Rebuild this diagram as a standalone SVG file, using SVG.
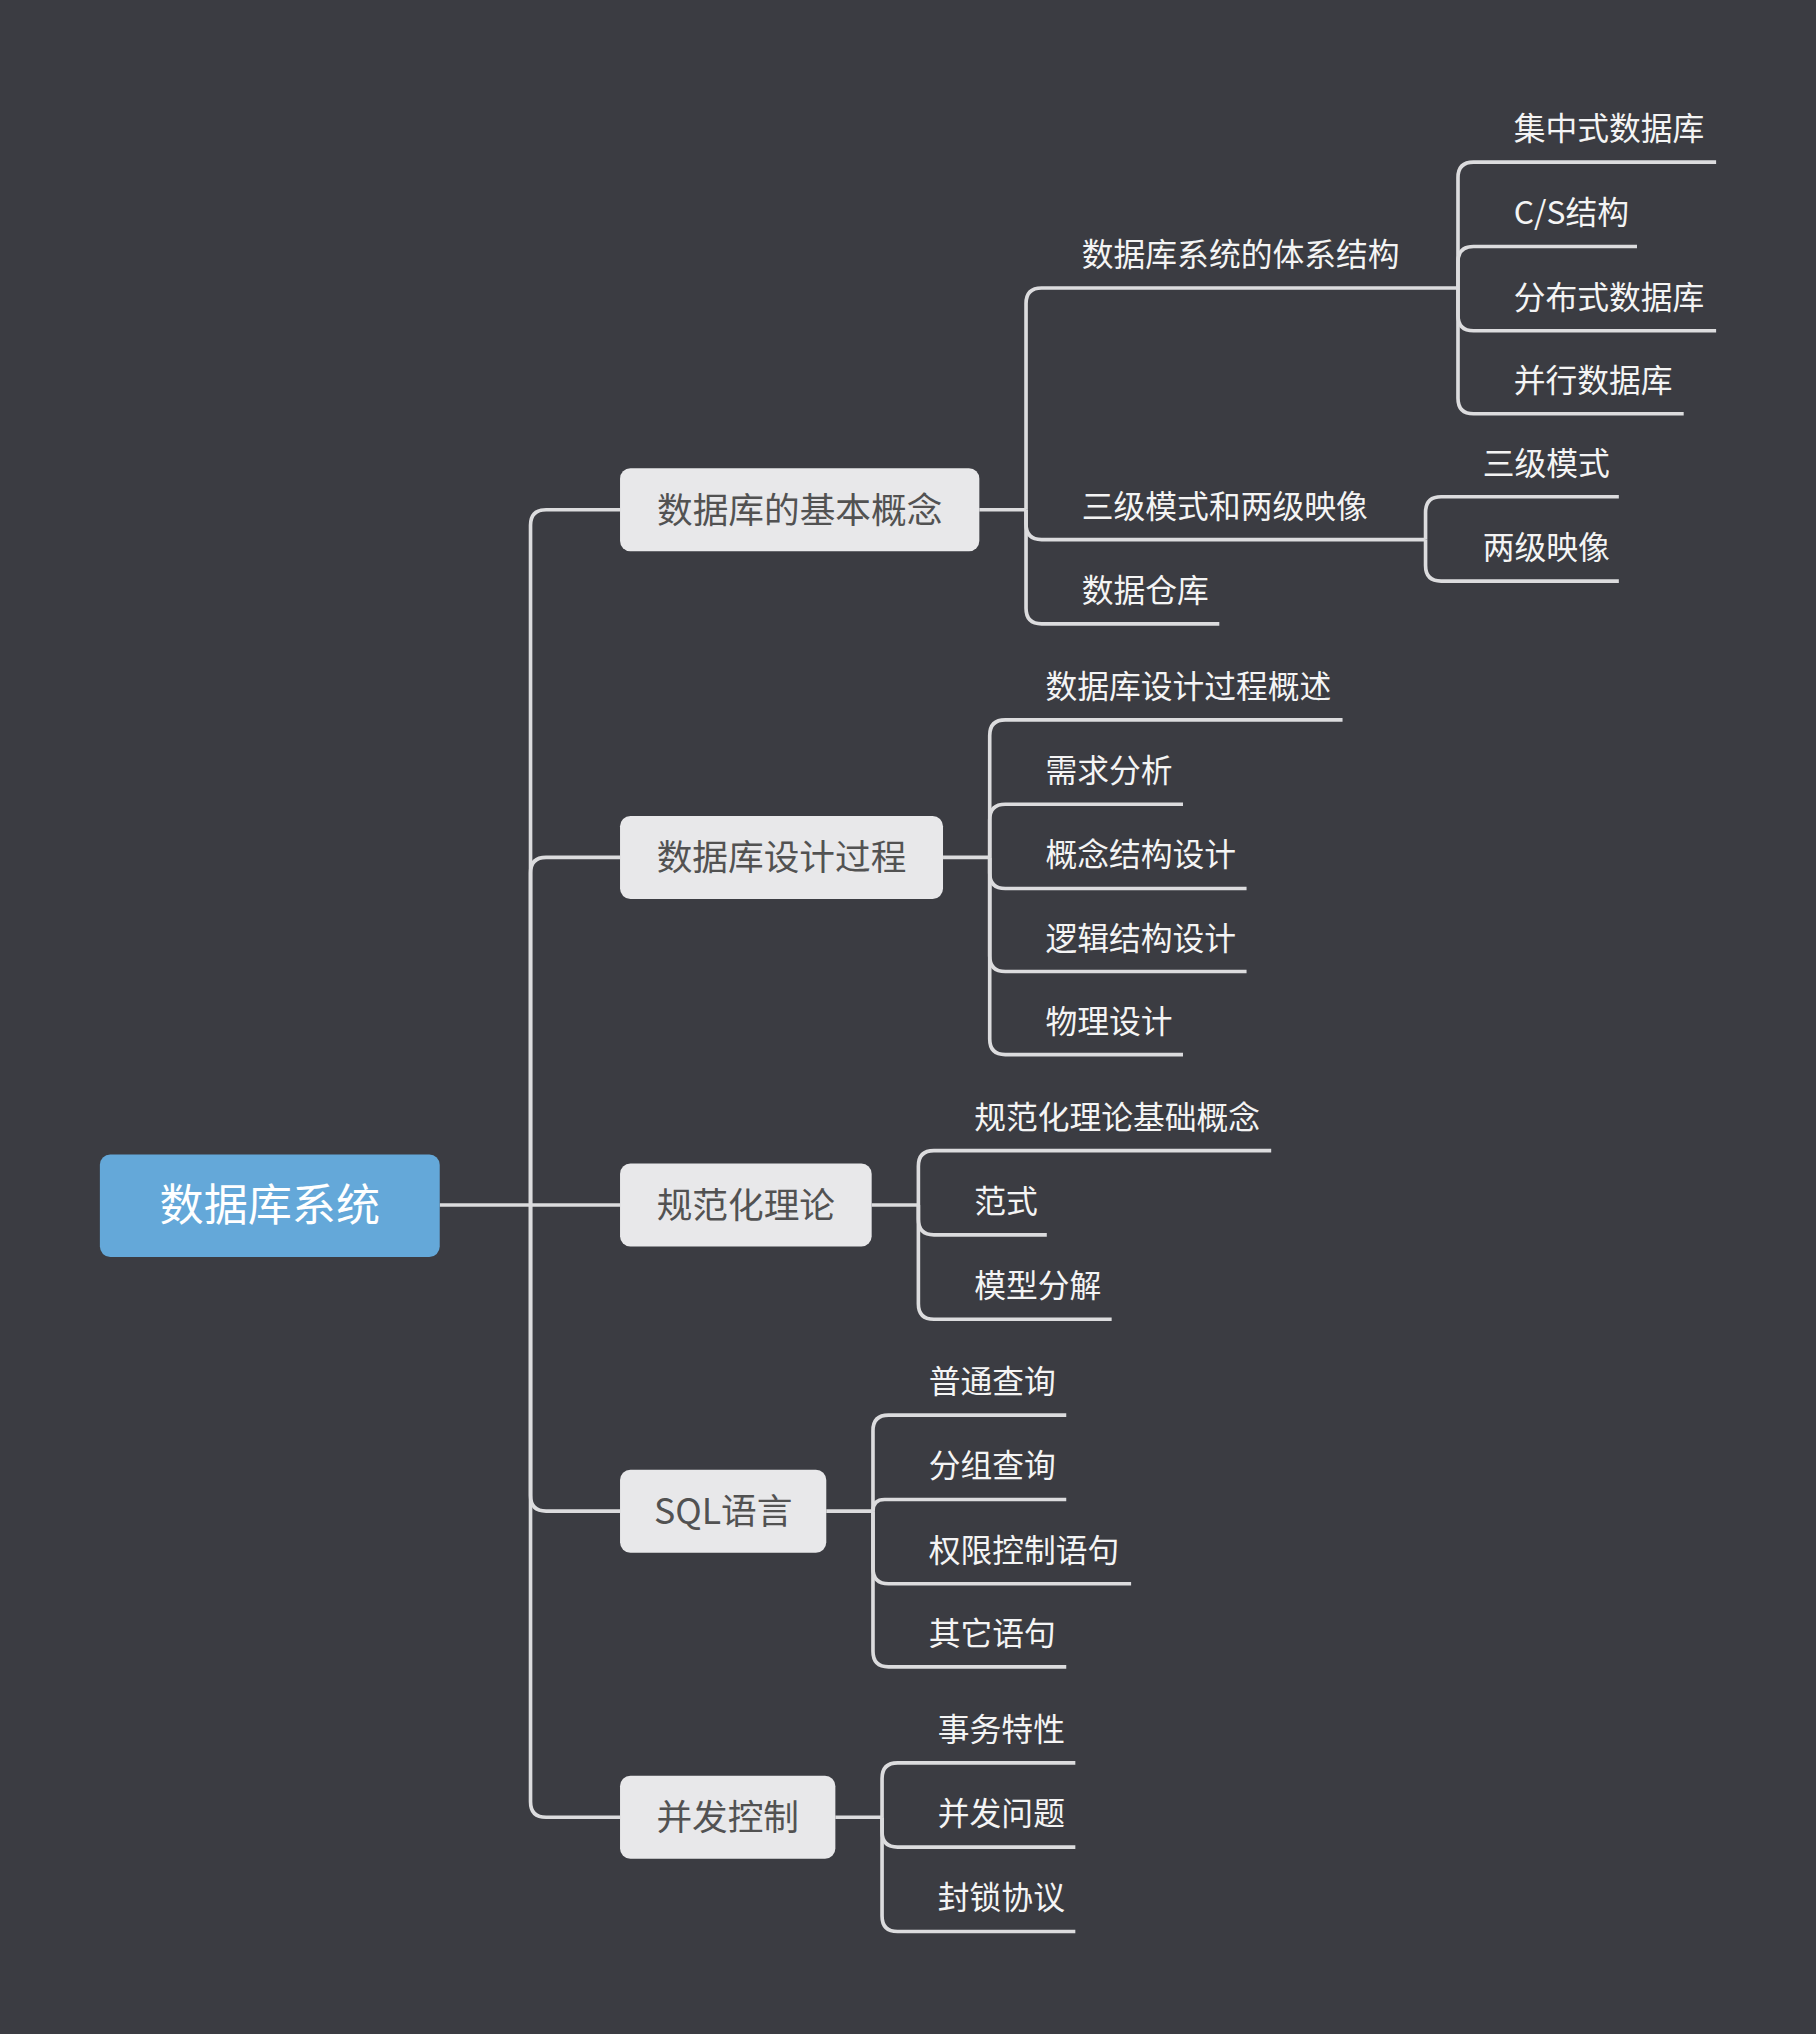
<svg xmlns="http://www.w3.org/2000/svg" width="1816" height="2034" viewBox="0 0 1816 2034">
<style>
.bg{fill:#3b3c42}
.ln{fill:none;stroke:#dcdcde;stroke-width:2.8;stroke-linecap:butt}
.root{fill:#64a8d9}
.box{fill:#e8e8ea}
.rt{font-family:"Noto Sans CJK SC","Noto Sans",sans-serif;font-size:34px;fill:#ffffff;text-anchor:middle}
.t1{font-family:"Noto Sans CJK SC","Noto Sans",sans-serif;font-size:27.5px;fill:#525252;text-anchor:middle}
.t2{font-family:"Noto Sans CJK SC","Noto Sans",sans-serif;font-size:24.5px;fill:#f4f4f4}
</style>
<rect class="bg" x="0" y="0" width="1816" height="2034"/>
<g transform="scale(1.29714)">
<g id="connectors">
<path class="ln" d="M339,929 H478"/>
<path class="ln" d="M409,929 V405 Q409,393 421,393 H478"/>
<path class="ln" d="M409,929 V673 Q409,661 421,661 H478"/>
<path class="ln" d="M409,929 V1153 Q409,1165 421,1165 H478"/>
<path class="ln" d="M409,929 V1389 Q409,1401 421,1401 H478"/>
<path class="ln" d="M755,393 H791"/>
<path class="ln" d="M791,393 V234 Q791,222 803,222 H1124"/>
<path class="ln" d="M791,393 V404 Q791,416 803,416 H1099"/>
<path class="ln" d="M791,393 V469 Q791,481 803,481 H940"/>
<path class="ln" d="M1124,222 V137 Q1124,125 1136,125 H1323"/>
<path class="ln" d="M1124,222 V202 Q1124,190 1136,190 H1262"/>
<path class="ln" d="M1124,222 V243 Q1124,255 1136,255 H1323"/>
<path class="ln" d="M1124,222 V307 Q1124,319 1136,319 H1298"/>
<path class="ln" d="M1099,416 V395 Q1099,383 1111,383 H1248"/>
<path class="ln" d="M1099,416 V436 Q1099,448 1111,448 H1248"/>
<path class="ln" d="M727,661 H763"/>
<path class="ln" d="M763,661 V567 Q763,555 775,555 H1035"/>
<path class="ln" d="M763,661 V632 Q763,620 775,620 H912"/>
<path class="ln" d="M763,661 V673 Q763,685 775,685 H961"/>
<path class="ln" d="M763,661 V737 Q763,749 775,749 H961"/>
<path class="ln" d="M763,661 V801 Q763,813 775,813 H912"/>
<path class="ln" d="M672,929 H708"/>
<path class="ln" d="M708,929 V899 Q708,887 720,887 H980"/>
<path class="ln" d="M708,929 V940 Q708,952 720,952 H807"/>
<path class="ln" d="M708,929 V1005 Q708,1017 720,1017 H857"/>
<path class="ln" d="M637,1165 H673"/>
<path class="ln" d="M673,1165 V1103 Q673,1091 685,1091 H822"/>
<path class="ln" d="M673,1165 Q673,1156 682,1156 H822"/>
<path class="ln" d="M673,1165 V1209 Q673,1221 685,1221 H872"/>
<path class="ln" d="M673,1165 V1273 Q673,1285 685,1285 H822"/>
<path class="ln" d="M644,1401 H680"/>
<path class="ln" d="M680,1401 V1371 Q680,1359 692,1359 H829"/>
<path class="ln" d="M680,1401 V1412 Q680,1424 692,1424 H829"/>
<path class="ln" d="M680,1401 V1477 Q680,1489 692,1489 H829"/>
</g>
<g id="root"><rect class="root" x="77" y="890" width="262" height="79" rx="8"/><text class="rt" x="208" y="941">数据库系统</text></g>
<g id="n1"><rect class="box" x="478" y="361" width="277" height="64" rx="8"/><text class="t1" x="616.5" y="403">数据库的基本概念</text></g>
<g id="n2"><rect class="box" x="478" y="629" width="249" height="64" rx="8"/><text class="t1" x="602.5" y="671">数据库设计过程</text></g>
<g id="n3"><rect class="box" x="478" y="897" width="194" height="64" rx="8"/><text class="t1" x="575" y="939">规范化理论</text></g>
<g id="n4"><rect class="box" x="478" y="1133" width="159" height="64" rx="8"/><text class="t1" x="557.5" y="1175">SQL语言</text></g>
<g id="n5"><rect class="box" x="478" y="1369" width="166" height="64" rx="8"/><text class="t1" x="561" y="1411">并发控制</text></g>
<g id="n1a"><text class="t2" x="834" y="205">数据库系统的体系结构</text></g>
<g id="n1a1"><text class="t2" x="1167" y="108">集中式数据库</text></g>
<g id="n1a2"><text class="t2" x="1167" y="173">C/S结构</text></g>
<g id="n1a3"><text class="t2" x="1167" y="238">分布式数据库</text></g>
<g id="n1a4"><text class="t2" x="1167" y="302">并行数据库</text></g>
<g id="n1b"><text class="t2" x="834" y="399">三级模式和两级映像</text></g>
<g id="n1b1"><text class="t2" x="1143" y="366">三级模式</text></g>
<g id="n1b2"><text class="t2" x="1143" y="431">两级映像</text></g>
<g id="n1c"><text class="t2" x="834" y="464">数据仓库</text></g>
<g id="n2a"><text class="t2" x="806" y="538">数据库设计过程概述</text></g>
<g id="n2b"><text class="t2" x="806" y="603">需求分析</text></g>
<g id="n2c"><text class="t2" x="806" y="668">概念结构设计</text></g>
<g id="n2d"><text class="t2" x="806" y="732">逻辑结构设计</text></g>
<g id="n2e"><text class="t2" x="806" y="796">物理设计</text></g>
<g id="n3a"><text class="t2" x="751" y="870">规范化理论基础概念</text></g>
<g id="n3b"><text class="t2" x="751" y="935">范式</text></g>
<g id="n3c"><text class="t2" x="751" y="1000">模型分解</text></g>
<g id="n4a"><text class="t2" x="716" y="1074">普通查询</text></g>
<g id="n4b"><text class="t2" x="716" y="1139">分组查询</text></g>
<g id="n4c"><text class="t2" x="716" y="1204">权限控制语句</text></g>
<g id="n4d"><text class="t2" x="716" y="1268">其它语句</text></g>
<g id="n5a"><text class="t2" x="723" y="1342">事务特性</text></g>
<g id="n5b"><text class="t2" x="723" y="1407">并发问题</text></g>
<g id="n5c"><text class="t2" x="723" y="1472">封锁协议</text></g>
</g>
</svg>
